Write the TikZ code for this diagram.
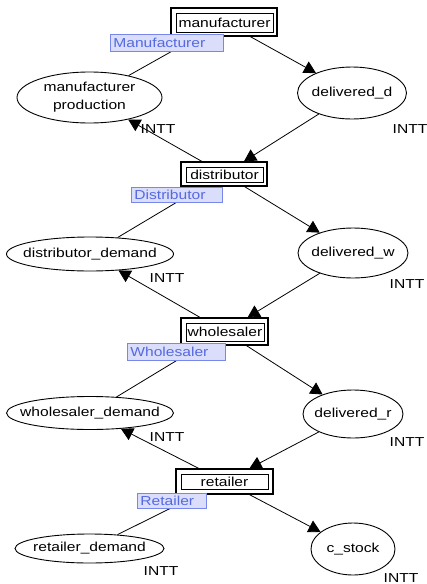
\documentclass[tikz,border=0pt]{standalone}
\usepackage{fontspec}
\setmainfont{Liberation Sans}[FakeStretch=1.2]
\usetikzlibrary{shapes.geometric,arrows.meta,backgrounds}
\definecolor{lblfill}{RGB}{218,222,250}
\definecolor{lbldraw}{RGB}{120,135,235}
\definecolor{lbltext}{RGB}{85,105,225}
\begin{document}
\begin{tikzpicture}[x=1pt,y=-1pt,
  every node/.style={font=\fontsize{13}{18}\selectfont},
  place/.style={ellipse, draw, line width=0.9pt, fill=white, inner sep=0pt,
     label={[inner sep=0pt, align=center, font=\fontsize{13}{18}\selectfont]center:#1}},
  transout/.style={draw, line width=1.3pt, fill=white, inner sep=0pt},
  transin/.style={draw, line width=1pt, inner sep=0pt},
  lbl/.style 2 args={draw=lbldraw, line width=0.8pt, fill=lblfill, text=lbltext,
     inner xsep=3pt, inner ysep=0pt, anchor=north west, minimum width=#1, minimum height=#2,
     text width=#1-6pt, align=left},
  arc/.style={line width=0.8pt},
  arr/.style={arc, -{Triangle[length=12pt,width=13pt]}},
  intt/.style={inner sep=0pt}]
\useasboundingbox (0,0) rectangle (427,584);

% places
\node[place={manufacturer\\production}, minimum width=145pt, minimum height=51pt] (mp) at (89.5,97.5) {};
\node[place={delivered\_d}, minimum width=109pt, minimum height=52pt] (dd) at (352,93) {};
\node[place={distributor\_demand}, minimum width=167pt, minimum height=34pt] (ddem) at (90,254) {};
\node[place={delivered\_w}, minimum width=110pt, minimum height=50pt] (dw) at (353,253) {};
\node[place={wholesaler\_demand}, minimum width=167pt, minimum height=33pt] (wdem) at (90,413) {};
\node[place={delivered\_r}, minimum width=100pt, minimum height=48pt] (dr) at (353,414) {};
\node[place={retailer\_demand}, minimum width=149pt, minimum height=29pt] (rdem) at (89.5,548.5) {};
\node[place={c\_stock}, minimum width=84pt, minimum height=52pt] (cs) at (353,549) {};

% transitions
\node[transout, minimum width=106pt, minimum height=28pt] (man) at (224,22) {};
\node[transin, minimum width=97pt, minimum height=19pt] (manin) at (224.5,23) {manufacturer};
\node[transout, minimum width=86pt, minimum height=24pt] (dis) at (224,174) {};
\node[transin, minimum width=77pt, minimum height=15pt] (disin) at (224.5,174.5) {distributor};
\node[transout, minimum width=87pt, minimum height=27pt] (who) at (224.5,331.5) {};
\node[transin, minimum width=78pt, minimum height=18pt] (whoin) at (225,332) {wholesaler};
\node[transout, minimum width=97pt, minimum height=25pt] (ret) at (224.5,481.5) {};
\node[transin, minimum width=87pt, minimum height=15pt] (retin) at (224.5,481.5) {retailer};

% arcs
\begin{pgfonlayer}{background}
\fill[white] (0,0) rectangle (427,584);
\draw[arc] (man) -- (mp);
\draw[arr] (man) -- (dd);
\draw[arr] (dd) -- (dis);
\draw[arr] (dis) -- (mp);
\draw[arc] (dis) -- (ddem);
\draw[arr] (dis) -- (dw);
\draw[arr] (dw) -- (who);
\draw[arr] (who) -- (ddem);
\draw[arc] (who) -- (wdem);
\draw[arr] (who) -- (dr);
\draw[arr] (dr) -- (ret);
\draw[arr] (ret) -- (wdem);
\draw[arc] (ret) -- (rdem);
\draw[arr] (ret) -- (cs);
\end{pgfonlayer}

% labels
\node[lbl={113pt}{17pt}] (manlbl) at (110,33.5) {Manufacturer};
\node[lbl={91pt}{15pt}] (dislbl) at (131,187) {Distributor};
\node[lbl={98pt}{17pt}] (wholbl) at (127,343) {Wholesaler};
\node[lbl={69pt}{15pt}] (retlbl) at (137,493) {Retailer};

% types
\node[intt] (t1) at (158,129) {INTT};
\node[intt] (t2) at (410,129) {INTT};
\node[intt] (t3) at (167,278) {INTT};
\node[intt] (t4) at (407,284) {INTT};
\node[intt] (t5) at (167,437) {INTT};
\node[intt] (t6) at (407,442) {INTT};
\node[intt] (t7) at (161,571) {INTT};
\node[intt] (t8) at (401,578) {INTT};
\end{tikzpicture}
\end{document}
